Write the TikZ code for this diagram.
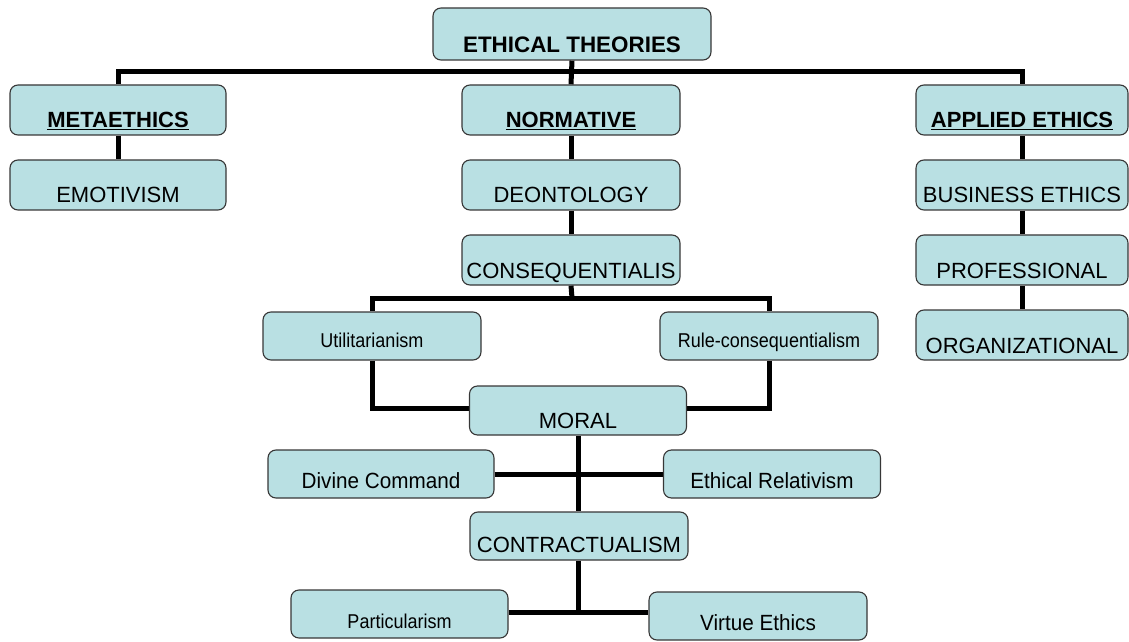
\documentclass[tikz,border=0pt]{standalone}
\usepackage{fontspec}
\setmainfont{Liberation Sans}
\newfontfamily\mixedfont{Liberation Sans}[FakeStretch=0.94]
\newfontfamily\smallfont{Liberation Sans}[FakeStretch=0.9]
\usetikzlibrary{backgrounds}
\definecolor{boxfill}{RGB}{185,224,227}
\definecolor{boxline}{RGB}{55,55,55}
\tikzset{
  box/.style={draw=boxline, line width=1.1pt, fill=boxfill, rounded corners=8pt,
    inner sep=0pt, align=center, text depth=7pt, text height=43pt,
    minimum width=216pt, font=\fontsize{22}{24}\selectfont},
  smallbox/.style={box, text depth=13pt, text height=35pt,
    font=\smallfont\fontsize{20}{22}\selectfont},
  midbox/.style={box, text depth=10pt, text height=38pt,
    font=\mixedfont\fontsize{22}{24}\selectfont},
  link/.style={line width=5pt, draw=black}
}
\newcommand{\ul}[1]{\underline{#1}}
\begin{document}
\begin{tikzpicture}[x=1pt,y=1pt]
\useasboundingbox (0,0) rectangle (1129,641);

% top level
\node[box, minimum width=278pt, text height=45pt, font=\fontsize{22.4}{24}\selectfont] (theories) at (572,607) {\textbf{ETHICAL THEORIES}};

% three branches
\node[box] (meta) at (118,531) {\textbf{\ul{METAETHICS}}};
\node[box] (emot) at (118,456) {EMOTIVISM};

\node[box, minimum width=218pt] (norm) at (571,531) {\textbf{\ul{NORMATIVE}}};
\node[box, minimum width=218pt] (deon) at (571,456) {DEONTOLOGY};
\node[box, minimum width=218pt] (conseq) at (571,381) {CONSEQUENTIALIS};

\node[box, minimum width=212pt] (appl) at (1022,531) {\textbf{\ul{APPLIED ETHICS}}};
\node[box, minimum width=212pt] (busi) at (1022,456) {BUSINESS ETHICS};
\node[box, minimum width=212pt] (prof) at (1022,381) {PROFESSIONAL};
\node[box, minimum width=212pt] (orga) at (1022,306) {ORGANIZATIONAL};

% consequentialist family
\node[smallbox, minimum width=218pt] (util) at (372,305) {Utilitarianism};
\node[smallbox, minimum width=218pt] (rule) at (769,305) {Rule-consequentialism};

\node[box, minimum width=217pt, text height=42pt] (moral) at (578,230.5) {MORAL};

\node[midbox, minimum width=226pt] (divine) at (381,167) {Divine Command};
\node[midbox, minimum width=217pt] (relat) at (772,167) {Ethical Relativism};

\node[box, minimum width=218pt, text depth=8pt, text height=40pt] (contract) at (579,105) {CONTRACTUALISM};

\node[smallbox, minimum width=217pt, text depth=10pt, text height=38pt] (partic) at (399.5,27) {Particularism};
\node[midbox, minimum width=218pt] (virtue) at (758,25) {Virtue Ethics};

% connectors, behind the boxes
\begin{pgfonlayer}{background}
  \coordinate (bus) at (572,569);
  \draw[link] (theories.south) -- (norm.north);
  \draw[link] (meta.north) -- (meta.north |- bus) -- (appl.north |- bus) -- (appl.north);
  \draw[link] (meta) -- (emot);
  \draw[link] (norm) -- (deon);
  \draw[link] (deon) -- (conseq);
  \draw[link] (appl) -- (busi);
  \draw[link] (busi) -- (prof);
  \draw[link] (prof) -- (orga);

  \coordinate (cb) at (572,343);
  \draw[link] (conseq.south) -- (cb);
  \draw[link] (util.north) -- (util.north |- cb) -- (rule.north |- cb) -- (rule.north);

  \coordinate (ml) at (578,233);
  \draw[link] (util.south) -- (util.south |- ml) -- (moral.west |- ml);
  \draw[link] (rule.south) -- (rule.south |- ml) -- (moral.east |- ml);

  \draw[link] (moral.south) -- (moral.south |- contract.north);
  \draw[link] (divine) -- (relat);

  \coordinate (pv) at (578,29);
  \draw[link] (contract.south -| pv) -- (pv);
  \draw[link] (partic.east |- pv) -- (virtue.west |- pv);
\end{pgfonlayer}
\end{tikzpicture}
\end{document}
